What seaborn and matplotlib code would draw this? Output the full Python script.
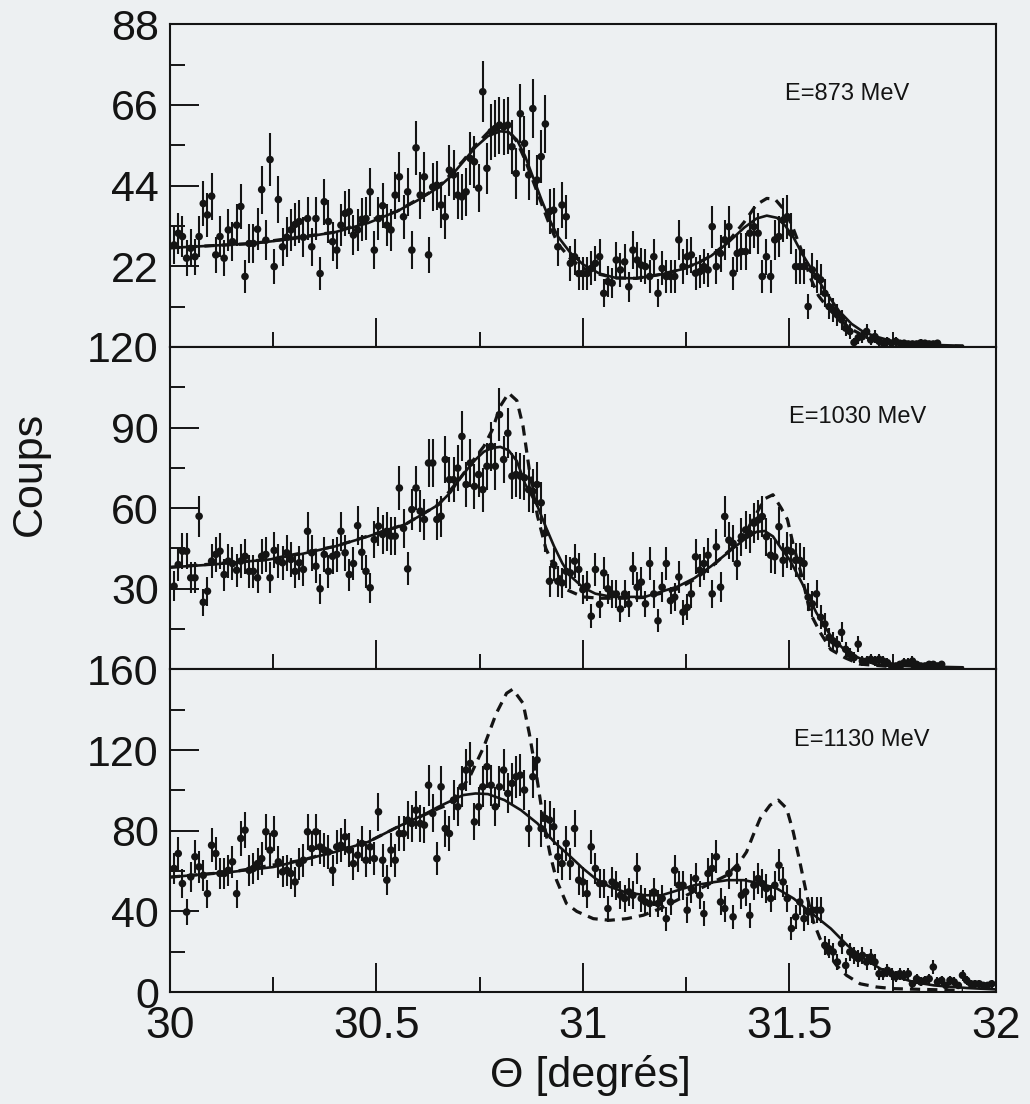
import numpy as np
import pandas as pd
import seaborn as sns
import matplotlib
matplotlib.use("Agg")
import matplotlib.pyplot as plt
from matplotlib.ticker import MultipleLocator, FormatStrFormatter

# counts per 0.01 deg bin (errors are sqrt(N))
bin_start = 30.01
bin_step = 0.0101

top_counts = [27.8, 31.0, 30.1, 24.2, 26.9, 24.6, 30.1, 39.1, 36.0, 41.1,
              25.1, 30.1, 24.2, 31.9, 28.7, 33.2, 38.3, 19.2, 28.2, 28.2,
              32.1, 42.9, 29.1, 51.1, 21.9, 40.2, 27.3, 29.9, 31.9, 33.4,
              34.2, 29.9, 35.0, 27.3, 35.0, 20.0, 39.6, 34.2, 28.7, 26.4,
              33.2, 36.4, 36.9, 30.5, 31.9, 34.8, 35.0, 42.3, 26.4, 35.0,
              38.5, 33.2, 31.9, 41.4, 46.4, 35.5, 42.3, 26.4, 54.3, 41.4,
              46.4, 25.1, 43.6, 44.1, 38.7, 35.5, 48.2, 46.9, 41.4, 40.9,
              42.3, 51.4, 50.5, 43.3, 69.6, 48.7, 58.7, 59.6, 60.5, 60.0,
              60.5, 54.6, 47.3, 63.6, 55.5, 46.9, 65.0, 45.5, 51.9, 60.8,
              36.9, 37.3, 27.3, 38.7, 35.5, 22.8, 24.6, 20.0, 20.0, 20.0,
              21.4, 22.8, 24.6, 14.6, 17.8,
              17.4, 23.7, 21.0, 23.2, 16.4, 26.4, 23.7, 22.3, 21.9, 19.2,
              24.6, 14.6, 21.4, 19.2, 19.2, 19.2, 29.2, 21.9, 24.6, 25.1,
              20.1, 20.5, 21.9, 21.0, 32.8, 21.9, 25.5, 29.2, 32.8, 20.1,
              25.5, 26.0, 26.0, 31.0, 32.8, 31.0, 19.2, 24.6, 19.2, 29.2,
              30.1, 34.6, 35.5, 31.0, 21.9, 21.9, 21.9, 11.0, 21.0, 19.2,
              18.3, 14.6, 11.0, 10.1, 8.7, 7.4, 5.1, 4.2, 1.2, 2.5,
              2.8, 4.2, 1.9, 2.8, 1.5, 1.0, 1.5, 1.0, 1.5, 1.0,
              1.0, 0.8, 0.8, 0.8, 1.1, 1.0, 0.8, 0.8, 1.0]

mid_counts = [31.0, 39.0, 44.0, 44.0, 34.1, 34.1, 57.0, 25.0, 29.1, 40.3,
              42.8, 44.0, 35.3, 40.3, 39.4, 36.9, 40.3, 42.1, 36.5, 36.5,
              34.1, 42.1, 42.8, 34.1, 44.3, 40.3, 39.7, 43.4, 40.9, 36.5,
              39.7, 37.2, 51.4, 43.4, 38.4, 30.0, 42.8, 36.5, 42.1, 42.8,
              51.4, 43.4, 35.3, 39.4, 53.5, 43.6, 36.5, 30.4, 48.3, 53.3,
              50.2, 51.4, 49.6, 49.6, 67.5, 52.5, 37.4, 59.5, 67.5, 58.9,
              55.8, 76.8, 76.8, 55.8, 57.0, 78.1, 70.6, 70.6, 74.9, 86.7,
              68.8, 76.8, 68.1, 72.5, 66.9, 75.6, 83.0, 75.6, 94.8, 78.1,
              87.9, 71.9, 72.5, 71.9, 71.3, 66.9, 66.3, 68.8, 62.0, 50.8,
              32.8, 39.0, 32.8, 32.2, 36.5, 35.9, 40.3, 37.2, 29.7, 31.0,
              19.8, 37.2, 24.2, 35.9, 30.0,
              28.1, 28.1, 22.5, 28.1, 24.4, 37.5, 30.6, 32.5, 24.4, 39.4,
              28.1, 18.1, 30.6, 39.4, 25.6, 26.9, 34.4, 21.3, 23.1, 28.1,
              41.9, 36.9, 39.4, 42.5, 28.1, 45.6, 30.6, 56.9, 48.1, 46.9,
              39.4, 49.4, 51.9, 50.6, 54.4, 55.6, 56.9, 49.4, 42.5, 41.9,
              53.1, 40.6, 44.4, 43.8, 40.6, 40.6, 39.4, 26.9, 24.4, 28.1,
              19.4, 16.9, 11.9, 10.6, 9.4, 13.8, 7.5, 5.6, 4.4, 9.4,
              3.1, 3.1, 3.8, 3.1, 3.8, 3.1, 2.5, 1.3, 1.3, 1.9,
              2.5, 2.5, 3.1, 1.9, 1.3, 1.3, 1.9, 1.9, 1.3, 1.9]

bot_counts = [61.3, 68.7, 53.8, 39.7, 57.1, 67.1, 62.1, 57.9, 48.8, 72.8,
              68.7, 58.8, 58.8, 60.4, 64.6, 48.8, 76.2, 80.3, 60.4, 61.3,
              63.7, 66.2, 79.5, 70.4, 78.6, 64.6, 59.6, 60.4, 58.8, 54.6,
              63.7, 65.4, 79.5, 71.2, 79.5, 72.0, 70.4, 69.5, 60.4, 72.0,
              72.8, 77.0, 70.4, 63.7, 67.9, 73.7, 65.4, 72.0, 66.2, 89.4,
              65.4, 55.5, 70.4, 65.4, 78.6, 78.6, 85.3, 83.6, 90.2, 83.6,
              82.8, 102.6, 88.6, 66.2, 101.8, 81.1, 78.6, 95.2, 91.9, 101.8,
              110.1, 113.4, 84.4, 91.9, 101.8, 111.8, 102.6, 91.9, 101.8, 110.1,
              98.5, 103.5, 106.8, 107.6, 100.2, 81.1, 106.8, 115.1, 81.1, 86.1,
              85.3, 82.0, 67.1, 63.7, 73.7, 63.7, 81.1, 55.5, 54.6, 48.8,
              72.0, 61.3, 53.8, 53.8, 41.4,
              54.6, 53.0, 48.0, 46.4, 49.7, 48.0, 61.3, 46.4, 44.7, 43.9,
              49.7, 43.9, 46.4, 36.4, 44.7, 60.4, 53.0, 53.0, 40.6, 51.3,
              56.3, 48.0, 38.9, 58.8, 61.3, 67.1, 44.7, 41.4, 58.8, 37.3,
              61.3, 48.0, 49.7, 38.1, 53.0, 56.3, 53.8, 51.3, 46.4, 53.0,
              62.9, 54.6, 46.4, 31.5, 37.3, 44.7, 36.4, 39.7, 40.6, 40.6,
              40.6, 23.2, 21.5, 19.9, 14.9, 24.0, 13.2, 19.9, 18.2, 16.6,
              18.2, 14.9, 17.4, 14.9, 9.1, 9.1, 10.8, 9.1, 7.5, 9.1,
              8.3, 9.1, 4.1, 6.6, 5.0, 5.8, 6.6, 12.4, 5.0, 5.8,
              3.3, 5.8, 5.0, 3.3, 8.3, 5.8, 4.1, 4.1, 4.1, 3.3,
              3.3, 4.1]

# model curves read at knots
top_fit_x = [30.00, 30.10, 30.20, 30.30, 30.40, 30.48, 30.55, 30.60, 30.65, 30.68,
             30.71, 30.74, 30.77, 30.80, 30.82, 30.84, 30.86, 30.88, 30.90, 30.92,
             30.94, 30.97, 31.00, 31.04, 31.08, 31.13, 31.19, 31.24, 31.28, 31.31,
             31.35, 31.39, 31.42, 31.445, 31.47, 31.49, 31.51, 31.53, 31.56, 31.59,
             31.62, 31.65, 31.68, 31.71, 31.75, 31.80, 31.92]
top_fit_y = [27.0, 27.6, 28.2, 29.5, 31.3, 33.8, 37.0, 40.0, 43.5, 46.5,
             50.5, 54.5, 57.5, 58.8, 58.6, 56.5, 52.0, 46.0, 40.0, 34.5,
             30.0, 25.6, 22.5, 20.0, 18.8, 18.7, 19.8, 21.2, 23.0, 24.8,
             28.3, 32.5, 35.0, 35.8, 35.2, 33.0, 29.8, 25.5, 20.0, 14.6,
             9.8, 6.3, 4.0, 2.8, 1.5, 0.7, 0.3]
top_dash_x = [30.00, 30.20, 30.40, 30.55, 30.65, 30.71, 30.74, 30.77, 30.80, 30.82,
              30.84, 30.86, 30.88, 30.90, 30.92, 30.94, 30.97, 31.00, 31.04, 31.08,
              31.13, 31.19, 31.24, 31.28, 31.31, 31.35, 31.39, 31.42, 31.445, 31.465,
              31.49, 31.51, 31.53, 31.55, 31.57, 31.59, 31.62, 31.65, 31.68, 31.71,
              31.75, 31.80, 31.92]
top_dash_y = [27.0, 28.2, 31.3, 37.0, 43.5, 50.8, 55.0, 58.5, 60.0, 59.0,
              56.0, 51.0, 45.0, 39.0, 33.0, 28.0, 24.0, 21.5, 19.8, 18.8,
              18.7, 19.8, 21.2, 23.0, 24.8, 28.5, 34.0, 38.8, 40.5, 40.3,
              37.0, 32.0, 26.0, 19.0, 14.0, 11.0, 7.5, 4.8, 3.0, 2.0,
              1.0, 0.5, 0.2]

mid_fit_x = [30.00, 30.10, 30.24, 30.32, 30.40, 30.48, 30.57, 30.62, 30.65, 30.68,
             30.70, 30.72, 30.74, 30.76, 30.78, 30.80, 30.82, 30.84, 30.86, 30.89,
             30.91, 30.93, 30.95, 30.97, 31.00, 31.03, 31.07, 31.15, 31.23, 31.27,
             31.31, 31.36, 31.39, 31.42, 31.44, 31.46, 31.48, 31.50, 31.53, 31.565,
             31.60, 31.64, 31.68, 31.71, 31.79, 31.92]
mid_fit_y = [38.0, 39.0, 40.9, 43.0, 45.8, 49.5, 54.0, 58.5, 61.3, 66.0,
             70.6, 74.5, 78.1, 81.0, 82.4, 82.8, 81.5, 77.5, 69.0, 60.7,
             53.0, 45.8, 39.5, 34.7, 30.5, 28.2, 27.0, 27.0, 30.9, 34.0,
             38.4, 44.6, 48.3, 51.2, 51.5, 49.5, 45.0, 40.9, 32.2, 21.1,
             12.4, 6.2, 3.5, 1.8, 1.2, 0.8]
mid_dash_x = [30.00, 30.24, 30.40, 30.57, 30.65, 30.70, 30.74, 30.76, 30.78, 30.80,
              30.82, 30.84, 30.855, 30.87, 30.89, 30.91, 30.93, 30.96, 31.00, 31.04,
              31.10, 31.15, 31.23, 31.27, 31.31, 31.36, 31.39, 31.42, 31.44, 31.46,
              31.48, 31.495, 31.51, 31.53, 31.55, 31.575, 31.60, 31.635, 31.67, 31.75,
              31.92]
mid_dash_y = [38.0, 40.9, 45.8, 54.0, 61.3, 70.6, 79.0, 83.0, 89.0, 98.0,
              102.8, 100.0, 90.4, 74.3, 57.0, 45.0, 38.4, 29.7, 27.0, 26.5,
              26.5, 26.8, 30.0, 33.5, 38.0, 45.0, 50.0, 58.0, 63.5, 65.0,
              60.0, 55.8, 45.8, 34.7, 21.0, 13.6, 7.4, 4.3, 2.0, 1.0,
              0.6]

bot_fit_x = [30.00, 30.15, 30.25, 30.32, 30.40, 30.48, 30.56, 30.61, 30.65, 30.71,
             30.74, 30.77, 30.81, 30.85, 30.89, 30.93, 30.97, 31.00, 31.03, 31.065,
             31.10, 31.15, 31.19, 31.23, 31.27, 31.31, 31.35, 31.39, 31.43, 31.47,
             31.51, 31.55, 31.60, 31.64, 31.68, 31.72, 31.76, 31.80, 31.85, 31.93,
             32.00]
bot_fit_y = [57.0, 59.6, 62.0, 65.4, 69.5, 74.5, 82.8, 87.5, 91.9, 97.7,
             98.5, 98.2, 95.2, 90.2, 83.6, 74.5, 67.1, 61.3, 56.3, 52.2,
             49.7, 48.0, 48.0, 50.5, 53.0, 54.3, 55.5, 55.5, 53.8, 51.3,
             46.4, 39.7, 31.5, 23.2, 16.6, 11.6, 7.5, 5.0, 3.3, 2.0,
             1.3]
bot_dash_x = [30.00, 30.15, 30.32, 30.48, 30.56, 30.65, 30.68, 30.726, 30.76, 30.79,
              30.815, 30.83, 30.855, 30.87, 30.888, 30.904, 30.92, 30.936, 30.96, 30.985,
              31.025, 31.065, 31.106, 31.146, 31.187, 31.227, 31.267, 31.308, 31.348, 31.38,
              31.396, 31.412, 31.429, 31.453, 31.473, 31.493, 31.509, 31.525, 31.542, 31.558,
              31.574, 31.59, 31.614, 31.638, 31.671, 31.711, 31.751, 31.92]
bot_dash_y = [57.0, 59.6, 65.4, 74.5, 82.8, 91.0, 93.5, 106.8, 121.7, 138.2,
              148.2, 150.2, 143.2, 128.3, 106.8, 85.3, 68.7, 55.5, 43.9, 40.0,
              36.4, 35.6, 36.4, 38.1, 41.4, 45.5, 49.7, 53.8, 57.9, 64.6,
              69.5, 77.8, 86.1, 92.7, 95.2, 91.1, 79.5, 64.6, 48.0, 34.8,
              26.5, 19.9, 13.2, 8.3, 4.1, 2.5, 1.7, 0.8]

energy_labels = ["E=873 MeV", "E=1030 MeV", "E=1130 MeV"]
label_pos = [(31.49, 69), (31.50, 94), (31.51, 125)]
y_limits = [88, 120, 160]
y_major = [[22, 44, 66, 88], [30, 60, 90, 120], [0, 40, 80, 120, 160]]
y_minor = [[11, 33, 55, 77], [15, 45, 75, 105], [20, 60, 100, 140]]

ink = "#141414"
paper = "#edf0f2"

sns.set_theme(style="ticks")
plt.rcParams['font.family'] = ['Liberation Sans', 'DejaVu Sans']

fig = plt.figure(figsize=(10.30, 11.04), dpi=100, facecolor=paper)
axes = fig.subplots(3, 1, sharex=True, gridspec_kw=dict(hspace=0))
fig.subplots_adjust(left=0.165, right=0.967, top=0.978, bottom=0.1014)

panels = [
    (top_counts, top_fit_x, top_fit_y, top_dash_x, top_dash_y),
    (mid_counts, mid_fit_x, mid_fit_y, mid_dash_x, mid_dash_y),
    (bot_counts, bot_fit_x, bot_fit_y, bot_dash_x, bot_dash_y),
]

for i, (ax, (counts, fx, fy, dx, dy)) in enumerate(zip(axes, panels)):
    counts = np.array(counts)
    theta = bin_start + bin_step * np.arange(len(counts))
    df = pd.DataFrame({'theta': theta, 'coups': counts})
    ax.set_facecolor(paper)

    ax.errorbar(df['theta'], df['coups'], yerr=np.sqrt(df['coups']), fmt='none',
                ecolor=ink, elinewidth=1.5, capsize=0, zorder=2)
    sns.scatterplot(data=df, x='theta', y='coups', ax=ax, color=ink, s=30,
                    edgecolor='none', zorder=3)
    sns.lineplot(x=fx, y=fy, ax=ax, color=ink, lw=1.9, estimator=None, sort=False, zorder=4)
    sns.lineplot(x=dx, y=dy, ax=ax, color=ink, lw=2.3, estimator=None, sort=False,
                 linestyle=(0, (3.2, 2.2)), zorder=4)

    ax.text(label_pos[i][0], label_pos[i][1], energy_labels[i], fontsize=17,
            ha='left', va='center', color=ink)

    ax.set_xlim(30, 32)
    ax.set_ylim(0, y_limits[i])
    ax.set_yticks(y_major[i])
    ax.set_yticks(y_minor[i], minor=True)
    ax.xaxis.set_major_locator(MultipleLocator(0.5))
    ax.xaxis.set_minor_locator(MultipleLocator(0.25))
    ax.xaxis.set_major_formatter(FormatStrFormatter('%g'))
    ax.set_xlabel('')
    ax.set_ylabel('')
    ax.tick_params(axis='both', which='major', direction='in', length=21, width=1.4,
                   colors=ink, labelsize=31, pad=8)
    ax.tick_params(axis='both', which='minor', direction='in', length=11, width=1.4,
                   colors=ink)
    ax.tick_params(axis='x', labelsize=32, pad=10)
    for sp in ax.spines.values():
        sp.set_linewidth(1.5)
        sp.set_color(ink)

fig.text(0.029, 0.571, "Coups", rotation=90, fontsize=31, ha='center', va='center', color=ink)
fig.text(0.573, 0.026, "Θ [degrés]", fontsize=31, ha='center', va='center', color=ink)

fig.savefig("out.png", dpi=100, facecolor=paper)
